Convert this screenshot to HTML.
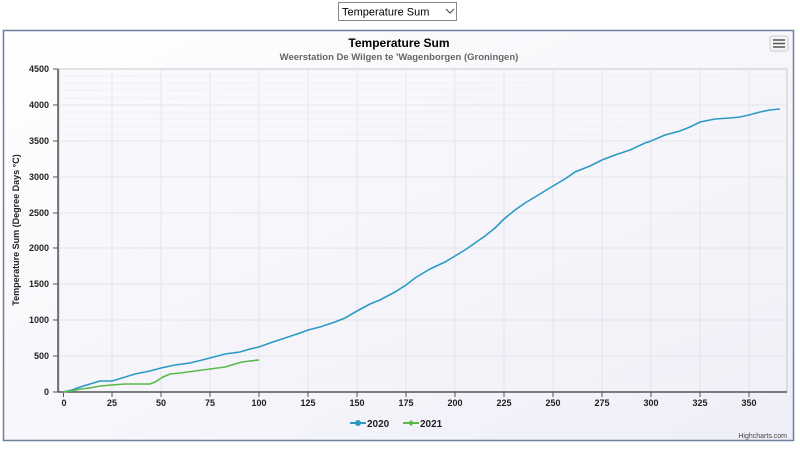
<!DOCTYPE html>
<html><head><meta charset="utf-8"><style>
body{margin:0;width:800px;height:450px;background:#fff;overflow:hidden;font-family:"Liberation Sans","DejaVu Sans",sans-serif}
</style></head><body>
<svg width="800" height="450" xmlns="http://www.w3.org/2000/svg" style="position:absolute;left:0;top:0">
<defs><linearGradient id="bg" x1="0" y1="0" x2="1" y2="1"><stop offset="0" stop-color="#fff"/><stop offset="1" stop-color="#eeeef8"/></linearGradient>
<linearGradient id="pb" x1="0" y1="0" x2="1" y2="1"><stop offset="0" stop-color="#fafafd"/><stop offset="1" stop-color="#f0f0f8"/></linearGradient></defs>
<rect x="338.5" y="2.5" width="118" height="18" fill="#fff" stroke="#888"/>
<text x="342" y="15.5" font-size="11" fill="#000">Temperature Sum</text>
<path d="M446 9 l4 4 l4 -4" fill="none" stroke="#444"/>
<rect x="3.5" y="30.5" width="790" height="410" fill="url(#bg)" stroke="#6f7fa0" stroke-width="1.5"/>
<rect x="59" y="69" width="728" height="323" fill="url(#pb)" stroke="#c8c8d0"/>
<g stroke="#e4e4ec" stroke-width="1">
<path d="M112 69V392M161 69V392M210 69V392M259 69V392M308 69V392M357 69V392M406 69V392M455 69V392M504 69V392M553 69V392M602 69V392M651 69V392M700 69V392M749 69V392"/>
<path d="M59 105H787M59 141H787M59 177H787M59 213H787M59 248H787M59 284H787M59 320H787M59 356H787"/>
</g>
<g stroke="#f0f0f5"><path d="M59 76H787M59 83H787M59 90H787M59 98H787M59 112H787M59 119H787M59 126H787M59 134H787"/></g>
<path d="M58 69V392H787" fill="none" stroke="#555" stroke-width="1.5"/>
<g stroke="#555"><path d="M53 69H58M53 105H58M53 141H58M53 177H58M53 213H58M53 248H58M53 284H58M53 320H58M53 356H58M53 392H58"/>
<path d="M63.5 392v5M112 392v5M161 392v5M210 392v5M259 392v5M308 392v5M357 392v5M406 392v5M455 392v5M504 392v5M553 392v5M602 392v5M651 392v5M700 392v5M749 392v5"/></g>
<g font-size="9" fill="#222" text-anchor="end" font-weight="bold">
<text x="49" y="72">4500</text><text x="49" y="108">4000</text><text x="49" y="144">3500</text><text x="49" y="180">3000</text><text x="49" y="216">2500</text><text x="49" y="251">2000</text><text x="49" y="287">1500</text><text x="49" y="323">1000</text><text x="49" y="359">500</text><text x="49" y="395">0</text></g>
<g font-size="9" fill="#222" text-anchor="middle" font-weight="bold">
<text x="64" y="406">0</text><text x="112" y="406">25</text><text x="161" y="406">50</text><text x="210" y="406">75</text><text x="259" y="406">100</text><text x="308" y="406">125</text><text x="357" y="406">150</text><text x="406" y="406">175</text><text x="455" y="406">200</text><text x="504" y="406">225</text><text x="553" y="406">250</text><text x="602" y="406">275</text><text x="651" y="406">300</text><text x="700" y="406">325</text><text x="749" y="406">350</text></g>
<text x="19" y="230" font-size="9" font-weight="bold" fill="#222" text-anchor="middle" transform="rotate(-90 19 230)">Temperature Sum (Degree Days °C)</text>
<text x="399" y="47" font-size="12" font-weight="bold" fill="#000" text-anchor="middle">Temperature Sum</text>
<text x="399" y="60" font-size="9.5" font-weight="bold" fill="#666" text-anchor="middle">Weerstation De Wilgen te 'Wagenborgen (Groningen)</text>
<rect x="770" y="36" width="18" height="15" rx="2" fill="#f4f4f4" stroke="#ccc"/>
<path d="M773 40h12M773 43.5h12M773 47h12" stroke="#555" stroke-width="1.5"/>
<polyline fill="none" stroke="#2c9ac4" stroke-width="1.6" points="63,392 72,390 80,387 90,384 100,381 112,381 122,378 135,374 150,371 161,368 175,365 190,363 210,358 225,354 240,352 250,349 259,347 270,343 285,338 300,333 308,330 320,327 335,322 345,318 357,311 370,304 380,300 395,292 406,285 415,278 430,269 445,262 455,256 465,250 475,243 485,236 495,228 504,219 515,210 525,203 535,197 553,186 565,179 575,172 590,166 602,160 615,155 630,150 645,143 651,141 665,135 680,131 690,127 700,122 715,119 730,118 740,117 749,115 760,112 770,110 780,109"/>
<polyline fill="none" stroke="#5ab94a" stroke-width="1.6" points="63,392 72,391 80,389 90,388 100,386 112,385 125,384 135,384 150,384 155,382 163,377 170,374 180,373 195,371 210,369 225,367 235,364 242,362 250,361 259,360"/>
<path d="M350 423h16" stroke="#2c9ac4" stroke-width="2"/><circle cx="358" cy="423" r="3" fill="#2c9ac4"/>
<text x="367" y="427" font-size="10" font-weight="bold" fill="#222">2020</text>
<path d="M403 423h16" stroke="#5ab94a" stroke-width="2"/><path d="M411 420l3 3l-3 3l-3 -3z" fill="#5ab94a"/>
<text x="420" y="427" font-size="10" font-weight="bold" fill="#222">2021</text>
<text x="787" y="438" font-size="7" fill="#444" text-anchor="end">Highcharts.com</text>
</svg>
</body></html>
